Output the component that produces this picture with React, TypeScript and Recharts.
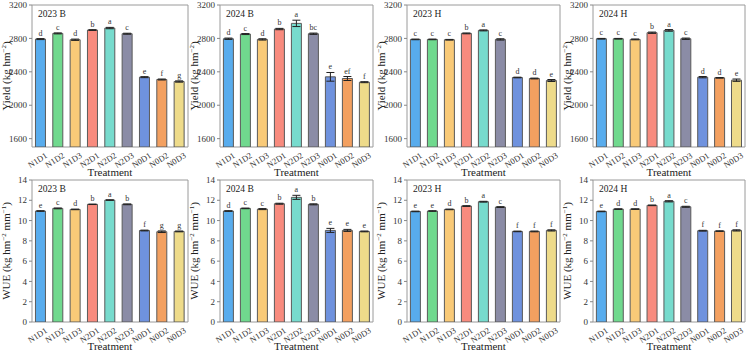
import { BarChart, Bar, XAxis, YAxis, ErrorBar, LabelList, Cell, ReferenceArea } from 'recharts'

const treatments = ['N1D1', 'N1D2', 'N1D3', 'N2D1', 'N2D2', 'N2D3', 'N0D1', 'N0D2', 'N0D3']
const barColors = ['#58aced', '#70d98e', '#f9ca78', '#f88b7e', '#77dbcd', '#8b8ca6', '#6f92de', '#f3a060', '#eedb8a']

// grain yield, kg hm-2
const yield2023B = [2792, 2860, 2784, 2900, 2924, 2856, 2336, 2308, 2284]
const yieldErr2023B = [6, 6, 8, 5, 8, 6, 6, 6, 8]
const yieldSig2023B = ['d', 'c', 'd', 'b', 'a', 'c', 'e', 'f', 'g']

const yield2024B = [2796, 2852, 2788, 2912, 2980, 2856, 2340, 2320, 2276]
const yieldErr2024B = [8, 6, 8, 8, 38, 8, 52, 24, 6]
const yieldSig2024B = ['d', 'c', 'd', 'b', 'a', 'bc', 'e', 'ef', 'f']

const yield2023H = [2788, 2788, 2784, 2860, 2896, 2788, 2332, 2320, 2296]
const yieldErr2023H = [4, 4, 4, 5, 6, 8, 4, 5, 12]
const yieldSig2023H = ['c', 'c', 'c', 'b', 'a', 'c', 'd', 'd', 'e']

const yield2024H = [2796, 2796, 2788, 2868, 2896, 2796, 2336, 2328, 2300]
const yieldErr2024H = [4, 4, 5, 8, 10, 8, 8, 4, 14]
const yieldSig2024H = ['c', 'c', 'c', 'b', 'a', 'c', 'd', 'd', 'e']

// water use efficiency, kg hm-2 mm-1
const wue2023B = [10.94, 11.2, 11.1, 11.6, 12.02, 11.6, 9.02, 8.9, 8.93]
const wueErr2023B = [0.03, 0.04, 0.03, 0.02, 0.03, 0.04, 0.04, 0.08, 0.04]
const wueSig2023B = ['e', 'c', 'd', 'b', 'a', 'b', 'f', 'g', 'g']

const wue2024B = [10.94, 11.2, 11.13, 11.66, 12.29, 11.6, 9.03, 9.03, 8.93]
const wueErr2024B = [0.03, 0.03, 0.05, 0.05, 0.2, 0.05, 0.2, 0.1, 0.04]
const wueSig2024B = ['d', 'c', 'c', 'b', 'a', 'b', 'e', 'e', 'e']

const wue2023H = [10.9, 10.94, 11.1, 11.43, 11.86, 11.33, 8.93, 8.93, 9.03]
const wueErr2023H = [0.03, 0.03, 0.03, 0.04, 0.04, 0.04, 0.03, 0.04, 0.06]
const wueSig2023H = ['e', 'e', 'd', 'b', 'a', 'c', 'f', 'f', 'f']

const wue2024H = [10.9, 11.13, 11.13, 11.5, 11.9, 11.36, 9.0, 8.96, 9.03]
const wueErr2024H = [0.03, 0.03, 0.03, 0.03, 0.06, 0.05, 0.04, 0.03, 0.06]
const wueSig2024H = ['e', 'd', 'd', 'b', 'a', 'c', 'f', 'f', 'f']

const yieldTicks = [1600, 2000, 2400, 2800, 3200]
const wueTicks = [0, 2, 4, 6, 8, 10, 12, 14]

const plotLefts = [32, 220, 407, 593]
const plotWidths = [156, 153, 153, 152]
const PLOT_H = 142
const AXIS_W = 37
const FONT = "'Liberation Serif', 'DejaVu Serif', serif"
const serif = { fontFamily: FONT }

type Row = { name: string; value: number; err: number; sig: string }

function makeRows(values: number[], errs: number[], sigs: string[]): Row[] {
  return treatments.map((name, i) => ({ name, value: values[i], err: errs[i], sig: sigs[i] }))
}

const yieldPanels = [
  { tag: '2023 B', rows: makeRows(yield2023B, yieldErr2023B, yieldSig2023B) },
  { tag: '2024 B', rows: makeRows(yield2024B, yieldErr2024B, yieldSig2024B) },
  { tag: '2023 H', rows: makeRows(yield2023H, yieldErr2023H, yieldSig2023H) },
  { tag: '2024 H', rows: makeRows(yield2024H, yieldErr2024H, yieldSig2024H) },
]

const wuePanels = [
  { tag: '2023 B', rows: makeRows(wue2023B, wueErr2023B, wueSig2023B) },
  { tag: '2024 B', rows: makeRows(wue2024B, wueErr2024B, wueSig2024B) },
  { tag: '2023 H', rows: makeRows(wue2023H, wueErr2023H, wueSig2023H) },
  { tag: '2024 H', rows: makeRows(wue2024H, wueErr2024H, wueSig2024H) },
]

interface PanelProps {
  rows: Row[]
  left: number
  top: number
  plotWidth: number
  axisHeight: number
  domain: [number, number]
  ticks: number[]
}

function Panel({ rows, left, top, plotWidth, axisHeight, domain, ticks }: PanelProps) {
  const unit = PLOT_H / (domain[1] - domain[0])

  // significance letters sit just above the error bar cap
  const renderSig = (props: any) => {
    const { x, y, width, index } = props
    const row = rows[index]
    if (!row) return null
    const cx = Number(x) + Number(width) / 2
    const ty = Number(y) - row.err * unit - 3
    return (
      <text x={cx} y={ty} textAnchor="middle" fontSize={8} fill="#333" style={serif}>
        {row.sig}
      </text>
    )
  }

  return (
    <div style={{ position: 'absolute', left: left - AXIS_W, top }}>
      <BarChart
        width={AXIS_W + plotWidth + 2}
        height={5 + PLOT_H + axisHeight}
        data={rows}
        margin={{ top: 5, right: 2, left: 0, bottom: 0 }}
        barCategoryGap="20%"
        style={serif}
      >
        <ReferenceArea y1={domain[0]} y2={domain[1]} fill="none" stroke="#9a9a9a" strokeWidth={1} />
        <XAxis
          dataKey="name"
          interval={0}
          height={axisHeight}
          tickLine={false}
          axisLine={false}
          angle={-32}
          textAnchor="end"
          tickMargin={1}
          tick={{ fontSize: 8.5, fill: '#333', style: serif, dx: 4, dy: -2 }}
        />
        <YAxis
          width={AXIS_W}
          domain={domain}
          ticks={ticks}
          interval={0}
          allowDataOverflow
          axisLine={false}
          tickSize={3}
          tickMargin={2}
          tickLine={{ stroke: '#888' }}
          tick={{ fontSize: 9, fill: '#333', style: serif }}
        />
        <Bar dataKey="value" stroke="#5a5a5a" strokeWidth={1} isAnimationActive={false}>
          {rows.map((r, i) => (
            <Cell key={r.name} fill={barColors[i]} />
          ))}
          <ErrorBar dataKey="err" width={4} stroke="#222" strokeWidth={1} />
          <LabelList dataKey="sig" content={renderSig} />
        </Bar>
      </BarChart>
    </div>
  )
}

function Titles() {
  const rowTops = [5, 180]
  const axisBaselines = [176, 350]
  return (
    <svg
      width={747}
      height={351}
      style={{ position: 'absolute', left: 0, top: 0, pointerEvents: 'none', ...serif }}
      fill="#222"
    >
      {rowTops.map((pt, r) =>
        plotLefts.map((pl, c) => {
          const tag = (r === 0 ? yieldPanels : wuePanels)[c].tag
          const cy = pt + PLOT_H / 2
          const tx = pl - 26
          return (
            <g key={`${r}-${c}`} style={serif}>
              <text x={pl + 6} y={pt + 12} fontSize={9.5}>
                {tag}
              </text>
              <text x={pl + plotWidths[c] / 2} y={axisBaselines[r]} fontSize={11} textAnchor="middle">
                Treatment
              </text>
              {r === 0 ? (
                <text transform={`translate(${tx},${cy}) rotate(-90)`} fontSize={11} textAnchor="middle" dy={4}>
                  <tspan>Yield (kg hm</tspan>
                  <tspan fontSize={7} dy={-4}>−2</tspan>
                  <tspan dy={4}>)</tspan>
                </text>
              ) : (
                <text transform={`translate(${tx},${cy}) rotate(-90)`} fontSize={11} textAnchor="middle" dy={4}>
                  <tspan>WUE (kg hm</tspan>
                  <tspan fontSize={7} dy={-4}>−2</tspan>
                  <tspan dy={4}> mm</tspan>
                  <tspan fontSize={7} dy={-4}>−1</tspan>
                  <tspan dy={4}>)</tspan>
                </text>
              )}
            </g>
          )
        })
      )}
    </svg>
  )
}

export default function App() {
  return (
    <div style={{ position: 'fixed', left: 0, top: 0, width: 747, height: 351, background: '#fff', ...serif }}>
      {yieldPanels.map((p, i) => (
        <Panel
          key={`y${i}`}
          rows={p.rows}
          left={plotLefts[i]}
          top={0}
          plotWidth={plotWidths[i]}
          axisHeight={28}
          domain={[1500, 3200]}
          ticks={yieldTicks}
        />
      ))}
      {wuePanels.map((p, i) => (
        <Panel
          key={`w${i}`}
          rows={p.rows}
          left={plotLefts[i]}
          top={175}
          plotWidth={plotWidths[i]}
          axisHeight={29}
          domain={[0, 14]}
          ticks={wueTicks}
        />
      ))}
      <Titles />
    </div>
  )
}
